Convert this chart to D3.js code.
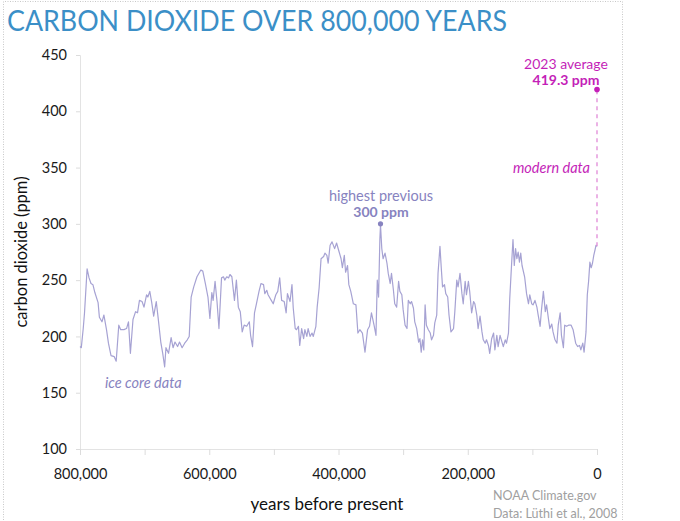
<!DOCTYPE html>
<html>
<head>
<meta charset="utf-8">
<script src="https://cdn.jsdelivr.net/npm/d3@7"></script>
<style>
  html, body { margin: 0; padding: 0; background: #fff; }
  svg { display: block; font-family: Lato, "Open Sans", sans-serif; }
</style>
</head>
<body>
<svg id="chart" width="680" height="521"></svg>
<script>
// years before present (thousands)
const years = [
  800,798,795,793,789,786,783,780,777,772,
  770,766,763,759,756,752,747,744,740,737,
  732,728,725,722,718,714,711,708,704,701,
  697,695,692,689,686,682,679,675,672,669,
  667,663,659,656,653,649,646,642,638,634,
  631,628,624,619,613,610,606,602,599,596,
  594,591,588,585,581,578,576,573,570,568,
  565,561,558,555,552,549,546,542,538,536,
  533,530,527,523,520,516,514,511,509,504,
  501,497,494,491,488,484,481,479,475,472,
  470,467,465,462,460,457,454,452,449,447,
  444,441,439,435,433,430,427,423,421,418,
  416,413,410,406,403,399,396,394,391,389,
  386,384,381,377,373,370,367,363,359,355,
  352,349,345,342,340,338,336,335,333,331,
  328,325,323,320,318,315,313,310,307,305,
  302,300,297,294,292,289,287,284,282,279,
  276,274,272,270,268,266,264,261,258,256,
  253,251,248,246,243,241,239,236,234,231,
  229,226,222,220,217,215,212,209,207,204,
  202,199,197,194,191,189,186,184,181,178,
  176,173,171,168,166,163,160,158,155,153,
  150,147,145,142,140,137,135,132,130,128,
  126,124,122,120,118,116,112,109,106,104,
  101,99,96,93,91,88,86,83,80,78,
  75,73,70,68,65,62,60,57,55,52,
  50,47,44,40,37,33,30,27,25,22,
  20,17,15,13,11,9,7,5,3,1.5,
  0
];
// CO2 (ppm), ice core record
const co2 = [
  191,190,207,221,260,252,247,246,239,230,
  217,213,219,206,194,183,182,178,210,206,
  206,207,213,185,215,222,221,232,231,226,
  237,235,240,230,218,231,216,195,185,173,
  190,185,199,190,195,191,195,190,194,197,
  200,235,244,253,259,258,247,235,216,239,
  232,249,231,207,252,253,250,253,252,255,
  253,232,250,226,222,204,210,209,213,201,
  191,221,229,240,247,246,238,241,237,232,
  229,237,240,252,232,231,221,238,231,246,
  225,207,206,209,192,207,198,206,200,207,
  200,203,200,209,226,243,269,271,274,272,
  265,281,284,278,283,275,269,261,272,257,
  263,246,240,229,228,203,206,203,186,206,
  209,221,210,201,250,235,286,299,278,269,
  274,265,256,247,256,241,229,226,249,240,
  237,224,210,207,232,229,231,225,213,207,
  195,198,186,197,188,228,210,206,203,197,
  201,212,219,256,280,261,244,246,238,235,
  219,204,207,222,250,244,256,238,229,249,
  237,249,240,221,231,229,219,207,218,204,
  197,194,197,192,185,198,203,188,201,191,
  201,195,191,197,194,203,234,266,286,263,
  278,269,275,266,274,263,253,238,229,237,
  229,228,232,226,219,209,223,240,222,228,
  215,207,211,204,197,194,210,221,201,190,
  210,209,210,210,206,194,191,192,188,194,
  186,204,237,249,266,261,265,272,277,281,
  280
];
const yTicks = [100,150,200,250,300,350,400,450];
const xTicks = [800000,700000,600000,500000,400000,300000,200000,100000,0];
const xLabelTicks = [800000,600000,400000,200000,0];
const highestPrev = { year: 335, ppm: 300 };
const modern = { year: 0, start: 280, ppm: 419.3 };

const title = "CARBON DIOXIDE OVER 800,000 YEARS";
const yTitle = "carbon dioxide (ppm)";
const xTitle = "years before present";
const credits = ["NOAA Climate.gov", "Data: Lüthi et al., 2008"];

const lineColor = "#a6a2d3";
const labelColor = "#8783c0";
const magenta = "#c41fb8";

const svg = d3.select("#chart");

// outer dotted frame
svg.append("path")
  .attr("d", "M3.5,530 V1.5 H622.5 V530")
  .attr("fill", "none").attr("stroke", "#c8c8c8")
  .attr("stroke-dasharray", "1,1.5");

const x = d3.scaleLinear().domain([800000, 0]).range([80, 597]);
const y = d3.scaleLinear().domain([100, 450]).range([449, 55]);

// title
svg.append("text").attr("x", 7).attr("y", 31)
  .attr("font-size", 28).attr("fill", "#3b8fc7")
  .attr("textLength", 500).attr("lengthAdjust", "spacingAndGlyphs")
  .text(title);

// y axis
const yAxis = svg.append("g").attr("transform", "translate(80,0)")
  .call(d3.axisLeft(y).tickValues(yTicks).tickSize(4).tickPadding(9).tickFormat(d3.format("d")));
yAxis.select(".domain").attr("stroke", "#e3e3e3");
yAxis.selectAll(".tick line").attr("stroke", "#dcdcdc");
yAxis.selectAll(".tick text").attr("font-size", 14.5).attr("fill", "#1a1a1a")
  .attr("font-family", "Lato, sans-serif");

// x axis
const xAxis = svg.append("g").attr("transform", "translate(0,449)")
  .call(d3.axisBottom(x).tickValues(xTicks).tickSize(6).tickPadding(14)
    .tickFormat(d => xLabelTicks.includes(d) ? d3.format(",")(d) : ""));
xAxis.select(".domain").attr("stroke", "#e3e3e3");
xAxis.selectAll(".tick line").attr("stroke", "#dcdcdc");
xAxis.selectAll(".tick text").attr("font-size", 14.5).attr("fill", "#1a1a1a")
  .attr("font-family", "Lato, sans-serif");

// axis titles
svg.append("text")
  .attr("transform", "translate(27,252) rotate(-90)")
  .attr("text-anchor", "middle").attr("font-size", 16.5).attr("fill", "#111")
  .text(yTitle);
svg.append("text").attr("x", 327).attr("y", 510)
  .attr("text-anchor", "middle").attr("font-size", 17).attr("fill", "#111")
  .text(xTitle);

// credits
credits.forEach((c, i) => {
  svg.append("text").attr("x", 493).attr("y", 500 + i * 18)
    .attr("font-size", 12.5).attr("fill", "#a0a0a0").text(c);
});

// ice core line
const data = years.map((yr, i) => ({ yr: yr * 1000, v: co2[i] }));
svg.append("path").datum(data)
  .attr("fill", "none").attr("stroke", lineColor).attr("stroke-width", 1.2)
  .attr("stroke-linejoin", "round")
  .attr("d", d3.line().x(d => x(d.yr)).y(d => y(d.v)));

// modern dashed line
svg.append("line")
  .attr("x1", x(modern.year)).attr("x2", x(modern.year))
  .attr("y1", y(modern.start)).attr("y2", y(modern.ppm))
  .attr("stroke", "#e08ad8").attr("stroke-width", 1.3).attr("stroke-dasharray", "4,4");
svg.append("circle").attr("cx", x(modern.year)).attr("cy", y(modern.ppm)).attr("r", 2.8)
  .attr("fill", magenta);

// highest previous marker
svg.append("circle").attr("cx", x(highestPrev.year * 1000)).attr("cy", y(highestPrev.ppm)).attr("r", 2.6)
  .attr("fill", labelColor);

// annotations
svg.append("text").attr("x", 566).attr("y", 69).attr("text-anchor", "middle")
  .attr("font-size", 14).attr("fill", magenta).text("2023 average");
svg.append("text").attr("x", 566).attr("y", 85).attr("text-anchor", "middle")
  .attr("font-size", 14).attr("font-weight", "bold").attr("fill", magenta).text(modern.ppm + " ppm");
svg.append("text").attr("x", 590).attr("y", 173).attr("text-anchor", "end")
  .attr("font-size", 14.5).attr("font-style", "italic").attr("fill", magenta).text("modern data");

svg.append("text").attr("x", 381).attr("y", 201).attr("text-anchor", "middle")
  .attr("font-size", 14.5).attr("fill", labelColor).text("highest previous");
svg.append("text").attr("x", 381).attr("y", 217).attr("text-anchor", "middle")
  .attr("font-size", 14).attr("font-weight", "bold").attr("fill", labelColor).text(highestPrev.ppm + " ppm");

svg.append("text").attr("x", 105).attr("y", 388)
  .attr("font-size", 14.5).attr("font-style", "italic").attr("fill", labelColor).text("ice core data");
</script>
</body>
</html>
